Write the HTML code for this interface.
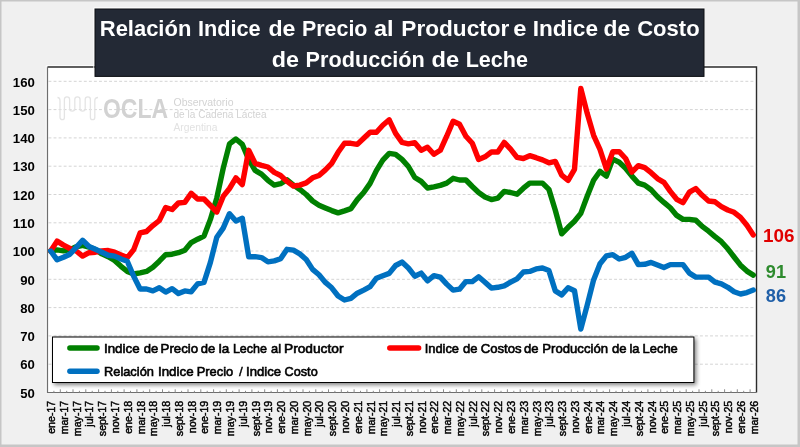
<!DOCTYPE html>
<html lang="es"><head><meta charset="utf-8"><title>Relación Indice de Precio al Productor e Indice de Costo de Producción de Leche</title>
<style>
html,body{margin:0;padding:0;background:#f0f0f0;}
body{width:800px;height:447px;overflow:hidden;}
svg{display:block;}
text{font-family:"Liberation Sans",sans-serif;}
.b{font-weight:bold;}
</style></head><body>
<svg width="800" height="447" viewBox="0 0 800 447">
<defs>
<filter id="sh" x="-5%" y="-20%" width="112%" height="150%"><feGaussianBlur in="SourceAlpha" stdDeviation="2"/><feOffset dx="2.2" dy="2.4" result="o"/><feComponentTransfer><feFuncA type="linear" slope="0.5"/></feComponentTransfer><feMerge><feMergeNode/><feMergeNode in="SourceGraphic"/></feMerge></filter>
</defs>
<rect x="0" y="0" width="800" height="447" fill="#c6c6c6"/>
<rect x="1.5" y="1.5" width="796" height="443" fill="#f0f0f0"/>

<rect x="47.5" y="67.0" width="709.0" height="325.5" fill="#ffffff"/>
<line x1="48.5" x2="755.5" y1="364.2" y2="364.2" stroke="#d4d4d4" stroke-width="1" stroke-dasharray="2.9 2.15"/>
<line x1="48.5" x2="755.5" y1="335.9" y2="335.9" stroke="#d4d4d4" stroke-width="1" stroke-dasharray="2.9 2.15"/>
<line x1="48.5" x2="755.5" y1="307.6" y2="307.6" stroke="#d4d4d4" stroke-width="1" stroke-dasharray="2.9 2.15"/>
<line x1="48.5" x2="755.5" y1="279.3" y2="279.3" stroke="#d4d4d4" stroke-width="1" stroke-dasharray="2.9 2.15"/>
<line x1="48.5" x2="755.5" y1="251.0" y2="251.0" stroke="#d4d4d4" stroke-width="1" stroke-dasharray="2.9 2.15"/>
<line x1="48.5" x2="755.5" y1="222.8" y2="222.8" stroke="#d4d4d4" stroke-width="1" stroke-dasharray="2.9 2.15"/>
<line x1="48.5" x2="755.5" y1="194.5" y2="194.5" stroke="#d4d4d4" stroke-width="1" stroke-dasharray="2.9 2.15"/>
<line x1="48.5" x2="755.5" y1="166.2" y2="166.2" stroke="#d4d4d4" stroke-width="1" stroke-dasharray="2.9 2.15"/>
<line x1="48.5" x2="755.5" y1="137.9" y2="137.9" stroke="#d4d4d4" stroke-width="1" stroke-dasharray="2.9 2.15"/>
<line x1="48.5" x2="755.5" y1="109.6" y2="109.6" stroke="#d4d4d4" stroke-width="1" stroke-dasharray="2.9 2.15"/>
<line x1="48.5" x2="755.5" y1="81.3" y2="81.3" stroke="#d4d4d4" stroke-width="1" stroke-dasharray="2.9 2.15"/>
<g id="logo">
<path d="M57.5,97.5 C59.5,97.5 60,99 60,101 L60,117.5 a2.2,2.2 0 0 0 4.4,0 L64.4,99.5 a2.6,2.6 0 0 1 5.2,0 L69.6,108.5 a2.6,2.6 0 0 0 5.2,0 L74.8,99.5 a2.6,2.6 0 0 1 5.2,0 L80,108.5 a2.6,2.6 0 0 0 5.2,0 L85.2,99.5 a2.6,2.6 0 0 1 5.2,0 L90.4,117.5 a2.2,2.2 0 0 0 4.4,0 L94.8,101 C94.8,99 95.5,97.5 98,97.5" fill="none" stroke="#e4e4e4" stroke-width="1.3"/>
<text x="103" y="118.2" class="b" font-size="28" fill="#d2d2d2" textLength="65" lengthAdjust="spacingAndGlyphs">OCLA</text>
<text x="173.5" y="106.1" font-size="11" fill="#d3d3d3" textLength="60" lengthAdjust="spacingAndGlyphs">Observatorio</text>
<text x="173.5" y="118.2" font-size="11" fill="#d3d3d3" textLength="93" lengthAdjust="spacingAndGlyphs">de la Cadena Láctea</text>
<text x="173.5" y="130.9" font-size="11" fill="#e2e2e2" textLength="44" lengthAdjust="spacingAndGlyphs">Argentina</text>
</g>
<path d="M46.2,393.5 L46.2,65.7 L757,65.7" fill="none" stroke="#ffffff" stroke-width="1" opacity="0.85"/>
<path d="M47.5,67.0 L756.5,67.0 L756.5,392.5" fill="none" stroke="#2c2c2c" stroke-width="1.4"/>
<path d="M47.5,67.0 L47.5,392.5 L756.5,392.5" fill="none" stroke="#6e6e6e" stroke-width="1.2"/>
<path d="M53.9,392.5 v-1.7 M60.3,392.5 v-3.2 M66.7,392.5 v-1.7 M73.0,392.5 v-3.2 M79.4,392.5 v-1.7 M85.8,392.5 v-3.2 M92.2,392.5 v-1.7 M98.6,392.5 v-3.2 M105.0,392.5 v-1.7 M111.4,392.5 v-3.2 M117.8,392.5 v-1.7 M124.1,392.5 v-3.2 M130.5,392.5 v-1.7 M136.9,392.5 v-3.2 M143.3,392.5 v-1.7 M149.7,392.5 v-3.2 M156.1,392.5 v-1.7 M162.5,392.5 v-3.2 M168.9,392.5 v-1.7 M175.2,392.5 v-3.2 M181.6,392.5 v-1.7 M188.0,392.5 v-3.2 M194.4,392.5 v-1.7 M200.8,392.5 v-3.2 M207.2,392.5 v-1.7 M213.6,392.5 v-3.2 M220.0,392.5 v-1.7 M226.3,392.5 v-3.2 M232.7,392.5 v-1.7 M239.1,392.5 v-3.2 M245.5,392.5 v-1.7 M251.9,392.5 v-3.2 M258.3,392.5 v-1.7 M264.7,392.5 v-3.2 M271.1,392.5 v-1.7 M277.4,392.5 v-3.2 M283.8,392.5 v-1.7 M290.2,392.5 v-3.2 M296.6,392.5 v-1.7 M303.0,392.5 v-3.2 M309.4,392.5 v-1.7 M315.8,392.5 v-3.2 M322.2,392.5 v-1.7 M328.5,392.5 v-3.2 M334.9,392.5 v-1.7 M341.3,392.5 v-3.2 M347.7,392.5 v-1.7 M354.1,392.5 v-3.2 M360.5,392.5 v-1.7 M366.9,392.5 v-3.2 M373.3,392.5 v-1.7 M379.6,392.5 v-3.2 M386.0,392.5 v-1.7 M392.4,392.5 v-3.2 M398.8,392.5 v-1.7 M405.2,392.5 v-3.2 M411.6,392.5 v-1.7 M418.0,392.5 v-3.2 M424.4,392.5 v-1.7 M430.7,392.5 v-3.2 M437.1,392.5 v-1.7 M443.5,392.5 v-3.2 M449.9,392.5 v-1.7 M456.3,392.5 v-3.2 M462.7,392.5 v-1.7 M469.1,392.5 v-3.2 M475.5,392.5 v-1.7 M481.8,392.5 v-3.2 M488.2,392.5 v-1.7 M494.6,392.5 v-3.2 M501.0,392.5 v-1.7 M507.4,392.5 v-3.2 M513.8,392.5 v-1.7 M520.2,392.5 v-3.2 M526.6,392.5 v-1.7 M532.9,392.5 v-3.2 M539.3,392.5 v-1.7 M545.7,392.5 v-3.2 M552.1,392.5 v-1.7 M558.5,392.5 v-3.2 M564.9,392.5 v-1.7 M571.3,392.5 v-3.2 M577.7,392.5 v-1.7 M584.0,392.5 v-3.2 M590.4,392.5 v-1.7 M596.8,392.5 v-3.2 M603.2,392.5 v-1.7 M609.6,392.5 v-3.2 M616.0,392.5 v-1.7 M622.4,392.5 v-3.2 M628.8,392.5 v-1.7 M635.1,392.5 v-3.2 M641.5,392.5 v-1.7 M647.9,392.5 v-3.2 M654.3,392.5 v-1.7 M660.7,392.5 v-3.2 M667.1,392.5 v-1.7 M673.5,392.5 v-3.2 M679.9,392.5 v-1.7 M686.2,392.5 v-3.2 M692.6,392.5 v-1.7 M699.0,392.5 v-3.2 M705.4,392.5 v-1.7 M711.8,392.5 v-3.2 M718.2,392.5 v-1.7 M724.6,392.5 v-3.2 M731.0,392.5 v-1.7 M737.3,392.5 v-3.2 M743.7,392.5 v-1.7 M750.1,392.5 v-3.2" stroke="#8a8a8a" stroke-width="1" fill="none"/>
<polyline points="50.7,251.0 57.1,249.9 63.5,250.8 69.9,249.6 76.2,246.8 82.6,245.4 89.0,247.1 95.4,249.6 101.8,253.9 108.2,256.7 114.6,260.4 121.0,266.3 127.3,271.4 133.7,274.0 140.1,272.8 146.5,271.4 152.9,267.2 159.3,261.2 165.7,254.7 172.1,254.2 178.4,252.7 184.8,250.2 191.2,242.6 197.6,239.2 204.0,236.1 210.4,219.4 216.8,197.9 223.2,168.4 229.5,143.8 235.9,139.0 242.3,144.4 248.7,159.4 255.1,170.4 261.5,174.1 267.9,180.3 274.3,185.1 280.6,183.7 287.0,179.8 293.4,185.1 299.8,189.4 306.2,194.5 312.6,201.0 319.0,205.2 325.4,208.0 331.7,210.6 338.1,212.9 344.5,210.9 350.9,208.6 357.3,199.6 363.7,192.5 370.1,183.4 376.5,170.4 382.8,160.2 389.2,153.4 395.6,154.3 402.0,159.4 408.4,166.5 414.8,177.5 421.2,181.4 427.5,188.0 433.9,186.8 440.3,185.4 446.7,183.1 453.1,178.3 459.5,180.0 465.9,180.0 472.3,186.5 478.6,192.5 485.0,197.0 491.4,199.6 497.8,198.1 504.2,191.4 510.6,192.5 517.0,194.2 523.4,188.2 529.7,183.1 536.1,183.1 542.5,183.1 548.9,189.4 555.3,210.3 561.7,233.8 568.1,227.3 574.5,221.3 580.8,213.4 587.2,196.2 593.6,180.3 600.0,171.3 606.4,176.1 612.8,159.1 619.2,162.2 625.6,168.2 631.9,176.1 638.3,183.1 644.7,185.1 651.1,189.7 657.5,196.7 663.9,202.4 670.3,207.8 676.7,215.4 683.0,219.4 689.4,219.4 695.8,220.2 702.2,226.4 708.6,231.2 715.0,236.6 721.4,241.7 727.8,248.8 734.1,257.0 740.5,265.2 746.9,271.1 753.3,275.1" fill="none" stroke="#008000" stroke-width="5.4" stroke-linejoin="round" stroke-linecap="round"/>
<polyline points="50.7,251.0 57.1,241.1 63.5,245.1 69.9,248.5 76.2,251.0 82.6,256.1 89.0,252.7 95.4,252.2 101.8,251.0 108.2,250.5 114.6,252.2 121.0,255.0 127.3,257.6 133.7,249.6 140.1,232.9 146.5,231.5 152.9,225.6 159.3,220.5 165.7,207.5 172.1,209.5 178.4,203.0 184.8,202.4 191.2,193.3 197.6,199.0 204.0,199.0 210.4,205.5 216.8,212.0 223.2,196.4 229.5,188.5 235.9,177.8 242.3,184.6 248.7,150.3 255.1,163.3 261.5,165.3 267.9,167.0 274.3,172.4 280.6,175.5 287.0,181.4 293.4,186.0 299.8,185.1 306.2,182.9 312.6,177.8 319.0,175.5 325.4,169.9 331.7,163.3 338.1,152.3 344.5,143.3 350.9,143.3 357.3,144.4 363.7,138.2 370.1,132.2 376.5,132.2 382.8,125.2 389.2,119.8 395.6,133.4 402.0,142.4 408.4,143.8 414.8,142.7 421.2,150.3 427.5,147.2 433.9,154.3 440.3,150.3 446.7,136.2 453.1,121.2 459.5,124.3 465.9,136.2 472.3,143.3 478.6,159.4 485.0,156.8 491.4,152.0 497.8,152.0 504.2,142.4 510.6,149.2 517.0,157.4 523.4,158.5 529.7,155.7 536.1,157.7 542.5,159.9 548.9,162.8 555.3,161.4 561.7,175.2 568.1,180.3 574.5,169.3 580.8,88.4 587.2,113.3 593.6,135.3 600.0,149.5 606.4,169.0 612.8,151.7 619.2,151.7 625.6,158.5 631.9,172.1 638.3,165.6 644.7,167.6 651.1,172.7 657.5,178.6 663.9,182.3 670.3,191.4 676.7,199.3 683.0,202.7 689.4,192.2 695.8,188.5 702.2,195.3 708.6,201.0 715.0,201.8 721.4,206.6 727.8,210.0 734.1,212.3 740.5,217.4 746.9,225.3 753.3,234.9" fill="none" stroke="#ff0000" stroke-width="5.4" stroke-linejoin="round" stroke-linecap="round"/>
<polyline points="50.7,251.0 57.1,259.8 63.5,257.3 69.9,254.2 76.2,247.4 82.6,240.3 89.0,246.5 95.4,249.3 101.8,252.2 108.2,255.3 114.6,256.1 121.0,259.0 127.3,261.2 133.7,276.2 140.1,289.0 146.5,289.0 152.9,290.9 159.3,287.8 165.7,292.1 172.1,288.7 178.4,293.5 184.8,290.9 191.2,291.8 197.6,283.9 204.0,282.4 210.4,262.4 216.8,237.2 223.2,228.1 229.5,213.7 235.9,221.1 242.3,218.2 248.7,256.7 255.1,256.7 261.5,257.6 267.9,261.8 274.3,260.9 280.6,258.7 287.0,249.3 293.4,250.2 299.8,253.9 306.2,259.5 312.6,269.4 319.0,274.8 325.4,282.4 331.7,287.8 338.1,296.0 344.5,300.0 350.9,298.3 357.3,293.2 363.7,290.1 370.1,286.7 376.5,278.2 382.8,275.7 389.2,273.4 395.6,265.5 402.0,262.1 408.4,268.0 414.8,276.2 421.2,273.1 427.5,280.8 433.9,275.7 440.3,277.1 446.7,284.1 453.1,290.1 459.5,289.2 465.9,281.6 472.3,281.6 478.6,276.8 485.0,282.2 491.4,288.1 497.8,287.3 504.2,285.8 510.6,282.2 517.0,278.8 523.4,272.0 529.7,271.4 536.1,268.9 542.5,268.0 548.9,270.6 555.3,290.9 561.7,294.9 568.1,287.8 574.5,290.7 580.8,329.1 587.2,305.1 593.6,279.9 600.0,263.8 606.4,255.9 612.8,254.7 619.2,259.0 625.6,257.3 631.9,253.3 638.3,264.6 644.7,264.3 651.1,262.4 657.5,264.9 663.9,267.5 670.3,264.6 676.7,264.6 683.0,264.6 689.4,273.1 695.8,277.1 702.2,277.1 708.6,277.1 715.0,282.2 721.4,283.9 727.8,287.3 734.1,291.8 740.5,294.0 746.9,292.6 753.3,290.1" fill="none" stroke="#0070c0" stroke-width="5.4" stroke-linejoin="round" stroke-linecap="round"/>
<rect x="52.5" y="337" width="641.4" height="45.5" fill="#ffffff" stroke="#000000" stroke-width="1" filter="url(#sh)"/>
<line x1="69.9" x2="97" y1="348.1" y2="348.1" stroke="#008000" stroke-width="5.5" stroke-linecap="round"/>
<line x1="69.9" x2="97" y1="371.2" y2="371.2" stroke="#0070c0" stroke-width="5.5" stroke-linecap="round"/>
<line x1="389.8" x2="418.6" y1="348.1" y2="348.1" stroke="#ff0000" stroke-width="5.5" stroke-linecap="round"/>
<text x="104.0" y="352.5" font-size="13" fill="#000" stroke="#000" stroke-width="0.6" textLength="35.6" lengthAdjust="spacingAndGlyphs">Indice</text>
<text x="143.8" y="352.5" font-size="13" fill="#000" stroke="#000" stroke-width="0.6" textLength="14.5" lengthAdjust="spacingAndGlyphs">de</text>
<text x="160.6" y="352.5" font-size="13" fill="#000" stroke="#000" stroke-width="0.6" textLength="37.6" lengthAdjust="spacingAndGlyphs">Precio</text>
<text x="200.7" y="352.5" font-size="13" fill="#000" stroke="#000" stroke-width="0.6" textLength="14.5" lengthAdjust="spacingAndGlyphs">de</text>
<text x="218.7" y="352.5" font-size="13" fill="#000" stroke="#000" stroke-width="0.6" textLength="10.5" lengthAdjust="spacingAndGlyphs">la</text>
<text x="232.9" y="352.5" font-size="13" fill="#000" stroke="#000" stroke-width="0.6" textLength="34.1" lengthAdjust="spacingAndGlyphs">Leche</text>
<text x="271.1" y="352.5" font-size="13" fill="#000" stroke="#000" stroke-width="0.6" textLength="10.0" lengthAdjust="spacingAndGlyphs">al</text>
<text x="284.0" y="352.5" font-size="13" fill="#000" stroke="#000" stroke-width="0.6" textLength="59.5" lengthAdjust="spacingAndGlyphs">Productor</text>
<text x="104.0" y="375.9" font-size="13" fill="#000" stroke="#000" stroke-width="0.6" textLength="49.9" lengthAdjust="spacingAndGlyphs">Relación</text>
<text x="158.0" y="375.9" font-size="13" fill="#000" stroke="#000" stroke-width="0.6" textLength="35.6" lengthAdjust="spacingAndGlyphs">Indice</text>
<text x="196.7" y="375.9" font-size="13" fill="#000" stroke="#000" stroke-width="0.6" textLength="36.5" lengthAdjust="spacingAndGlyphs">Precio</text>
<text x="246.1" y="375.9" font-size="13" fill="#000" stroke="#000" stroke-width="0.6" textLength="35.0" lengthAdjust="spacingAndGlyphs">Indice</text>
<text x="284.6" y="375.9" font-size="13" fill="#000" stroke="#000" stroke-width="0.6" textLength="33.1" lengthAdjust="spacingAndGlyphs">Costo</text>
<text x="239" y="375.9" font-size="13.5" fill="#000" stroke="#000" stroke-width="0.4">/</text>
<text x="424.7" y="352.5" font-size="13" fill="#000" stroke="#000" stroke-width="0.6" textLength="34.3" lengthAdjust="spacingAndGlyphs">Indice</text>
<text x="463.1" y="352.5" font-size="13" fill="#000" stroke="#000" stroke-width="0.6" textLength="14.5" lengthAdjust="spacingAndGlyphs">de</text>
<text x="480.7" y="352.5" font-size="13" fill="#000" stroke="#000" stroke-width="0.6" textLength="40.9" lengthAdjust="spacingAndGlyphs">Costos</text>
<text x="524.1" y="352.5" font-size="13" fill="#000" stroke="#000" stroke-width="0.6" textLength="14.5" lengthAdjust="spacingAndGlyphs">de</text>
<text x="542.3" y="352.5" font-size="13" fill="#000" stroke="#000" stroke-width="0.6" textLength="65.7" lengthAdjust="spacingAndGlyphs">Producción</text>
<text x="611.9" y="352.5" font-size="13" fill="#000" stroke="#000" stroke-width="0.6" textLength="14.6" lengthAdjust="spacingAndGlyphs">de</text>
<text x="629.5" y="352.5" font-size="13" fill="#000" stroke="#000" stroke-width="0.6" textLength="10.0" lengthAdjust="spacingAndGlyphs">la</text>
<text x="642.5" y="352.5" font-size="13" fill="#000" stroke="#000" stroke-width="0.6" textLength="35.3" lengthAdjust="spacingAndGlyphs">Leche</text>
<path d="M93.8,77 L93.8,7.8 L704.5,7.8" fill="none" stroke="#ffffff" stroke-width="1" opacity="0.85"/>
<rect x="95" y="9" width="609" height="67.4" fill="#232935" stroke="#0c0e12" stroke-width="1"/>
<text x="99.8" y="36.2" class="b" font-size="22.8" fill="#ffffff" textLength="91.5" lengthAdjust="spacingAndGlyphs">Relación</text>
<text x="197.9" y="36.2" class="b" font-size="22.8" fill="#ffffff" textLength="62.8" lengthAdjust="spacingAndGlyphs">Indice</text>
<text x="268.4" y="36.2" class="b" font-size="22.8" fill="#ffffff" textLength="27.0" lengthAdjust="spacingAndGlyphs">de</text>
<text x="302.0" y="36.2" class="b" font-size="22.8" fill="#ffffff" textLength="65.4" lengthAdjust="spacingAndGlyphs">Precio</text>
<text x="374.0" y="36.2" class="b" font-size="22.8" fill="#ffffff" textLength="19.6" lengthAdjust="spacingAndGlyphs">al</text>
<text x="401.3" y="36.2" class="b" font-size="22.8" fill="#ffffff" textLength="108.1" lengthAdjust="spacingAndGlyphs">Productor</text>
<text x="513.3" y="36.2" class="b" font-size="22.8" fill="#ffffff" textLength="13.2" lengthAdjust="spacingAndGlyphs">e</text>
<text x="532.7" y="36.2" class="b" font-size="22.8" fill="#ffffff" textLength="65.3" lengthAdjust="spacingAndGlyphs">Indice</text>
<text x="603.6" y="36.2" class="b" font-size="22.8" fill="#ffffff" textLength="26.6" lengthAdjust="spacingAndGlyphs">de</text>
<text x="637.2" y="36.2" class="b" font-size="22.8" fill="#ffffff" textLength="62.4" lengthAdjust="spacingAndGlyphs">Costo</text>
<text x="271.8" y="67.4" class="b" font-size="22.8" fill="#ffffff" textLength="27.2" lengthAdjust="spacingAndGlyphs">de</text>
<text x="305.6" y="67.4" class="b" font-size="22.8" fill="#ffffff" textLength="119.2" lengthAdjust="spacingAndGlyphs">Producción</text>
<text x="431.5" y="67.4" class="b" font-size="22.8" fill="#ffffff" textLength="27.6" lengthAdjust="spacingAndGlyphs">de</text>
<text x="465.7" y="67.4" class="b" font-size="22.8" fill="#ffffff" textLength="62.2" lengthAdjust="spacingAndGlyphs">Leche</text>
<text x="20.2" y="397.7" class="b" font-size="13.1" fill="#000" textLength="14.6" lengthAdjust="spacingAndGlyphs">50</text>
<text x="20.2" y="369.4" class="b" font-size="13.1" fill="#000" textLength="14.6" lengthAdjust="spacingAndGlyphs">60</text>
<text x="20.2" y="341.1" class="b" font-size="13.1" fill="#000" textLength="14.6" lengthAdjust="spacingAndGlyphs">70</text>
<text x="20.2" y="312.8" class="b" font-size="13.1" fill="#000" textLength="14.6" lengthAdjust="spacingAndGlyphs">80</text>
<text x="20.2" y="284.5" class="b" font-size="13.1" fill="#000" textLength="14.6" lengthAdjust="spacingAndGlyphs">90</text>
<text x="12.8" y="256.2" class="b" font-size="13.1" fill="#000" textLength="22.0" lengthAdjust="spacingAndGlyphs">100</text>
<text x="12.8" y="228.0" class="b" font-size="13.1" fill="#000" textLength="22.0" lengthAdjust="spacingAndGlyphs">110</text>
<text x="12.8" y="199.7" class="b" font-size="13.1" fill="#000" textLength="22.0" lengthAdjust="spacingAndGlyphs">120</text>
<text x="12.8" y="171.4" class="b" font-size="13.1" fill="#000" textLength="22.0" lengthAdjust="spacingAndGlyphs">130</text>
<text x="12.8" y="143.1" class="b" font-size="13.1" fill="#000" textLength="22.0" lengthAdjust="spacingAndGlyphs">140</text>
<text x="12.8" y="114.8" class="b" font-size="13.1" fill="#000" textLength="22.0" lengthAdjust="spacingAndGlyphs">150</text>
<text x="12.8" y="86.5" class="b" font-size="13.1" fill="#000" textLength="22.0" lengthAdjust="spacingAndGlyphs">160</text>
<text transform="translate(55.1,400.8) rotate(-90)" text-anchor="end" font-size="10.6" fill="#000" stroke="#000" stroke-width="0.45">ene-17</text>
<text transform="translate(67.9,400.8) rotate(-90)" text-anchor="end" font-size="10.6" fill="#000" stroke="#000" stroke-width="0.45">mar-17</text>
<text transform="translate(80.6,400.8) rotate(-90)" text-anchor="end" font-size="10.6" fill="#000" stroke="#000" stroke-width="0.45">may-17</text>
<text transform="translate(93.4,400.8) rotate(-90)" text-anchor="end" font-size="10.6" fill="#000" stroke="#000" stroke-width="0.45">jul-17</text>
<text transform="translate(106.2,400.8) rotate(-90)" text-anchor="end" font-size="10.6" fill="#000" stroke="#000" stroke-width="0.45">sept-17</text>
<text transform="translate(119.0,400.8) rotate(-90)" text-anchor="end" font-size="10.6" fill="#000" stroke="#000" stroke-width="0.45">nov-17</text>
<text transform="translate(131.7,400.8) rotate(-90)" text-anchor="end" font-size="10.6" fill="#000" stroke="#000" stroke-width="0.45">ene-18</text>
<text transform="translate(144.5,400.8) rotate(-90)" text-anchor="end" font-size="10.6" fill="#000" stroke="#000" stroke-width="0.45">mar-18</text>
<text transform="translate(157.3,400.8) rotate(-90)" text-anchor="end" font-size="10.6" fill="#000" stroke="#000" stroke-width="0.45">may-18</text>
<text transform="translate(170.1,400.8) rotate(-90)" text-anchor="end" font-size="10.6" fill="#000" stroke="#000" stroke-width="0.45">jul-18</text>
<text transform="translate(182.8,400.8) rotate(-90)" text-anchor="end" font-size="10.6" fill="#000" stroke="#000" stroke-width="0.45">sept-18</text>
<text transform="translate(195.6,400.8) rotate(-90)" text-anchor="end" font-size="10.6" fill="#000" stroke="#000" stroke-width="0.45">nov-18</text>
<text transform="translate(208.4,400.8) rotate(-90)" text-anchor="end" font-size="10.6" fill="#000" stroke="#000" stroke-width="0.45">ene-19</text>
<text transform="translate(221.2,400.8) rotate(-90)" text-anchor="end" font-size="10.6" fill="#000" stroke="#000" stroke-width="0.45">mar-19</text>
<text transform="translate(233.9,400.8) rotate(-90)" text-anchor="end" font-size="10.6" fill="#000" stroke="#000" stroke-width="0.45">may-19</text>
<text transform="translate(246.7,400.8) rotate(-90)" text-anchor="end" font-size="10.6" fill="#000" stroke="#000" stroke-width="0.45">jul-19</text>
<text transform="translate(259.5,400.8) rotate(-90)" text-anchor="end" font-size="10.6" fill="#000" stroke="#000" stroke-width="0.45">sept-19</text>
<text transform="translate(272.3,400.8) rotate(-90)" text-anchor="end" font-size="10.6" fill="#000" stroke="#000" stroke-width="0.45">nov-19</text>
<text transform="translate(285.0,400.8) rotate(-90)" text-anchor="end" font-size="10.6" fill="#000" stroke="#000" stroke-width="0.45">ene-20</text>
<text transform="translate(297.8,400.8) rotate(-90)" text-anchor="end" font-size="10.6" fill="#000" stroke="#000" stroke-width="0.45">mar-20</text>
<text transform="translate(310.6,400.8) rotate(-90)" text-anchor="end" font-size="10.6" fill="#000" stroke="#000" stroke-width="0.45">may-20</text>
<text transform="translate(323.4,400.8) rotate(-90)" text-anchor="end" font-size="10.6" fill="#000" stroke="#000" stroke-width="0.45">jul-20</text>
<text transform="translate(336.1,400.8) rotate(-90)" text-anchor="end" font-size="10.6" fill="#000" stroke="#000" stroke-width="0.45">sept-20</text>
<text transform="translate(348.9,400.8) rotate(-90)" text-anchor="end" font-size="10.6" fill="#000" stroke="#000" stroke-width="0.45">nov-20</text>
<text transform="translate(361.7,400.8) rotate(-90)" text-anchor="end" font-size="10.6" fill="#000" stroke="#000" stroke-width="0.45">ene-21</text>
<text transform="translate(374.5,400.8) rotate(-90)" text-anchor="end" font-size="10.6" fill="#000" stroke="#000" stroke-width="0.45">mar-21</text>
<text transform="translate(387.2,400.8) rotate(-90)" text-anchor="end" font-size="10.6" fill="#000" stroke="#000" stroke-width="0.45">may-21</text>
<text transform="translate(400.0,400.8) rotate(-90)" text-anchor="end" font-size="10.6" fill="#000" stroke="#000" stroke-width="0.45">jul-21</text>
<text transform="translate(412.8,400.8) rotate(-90)" text-anchor="end" font-size="10.6" fill="#000" stroke="#000" stroke-width="0.45">sept-21</text>
<text transform="translate(425.6,400.8) rotate(-90)" text-anchor="end" font-size="10.6" fill="#000" stroke="#000" stroke-width="0.45">nov-21</text>
<text transform="translate(438.3,400.8) rotate(-90)" text-anchor="end" font-size="10.6" fill="#000" stroke="#000" stroke-width="0.45">ene-22</text>
<text transform="translate(451.1,400.8) rotate(-90)" text-anchor="end" font-size="10.6" fill="#000" stroke="#000" stroke-width="0.45">mar-22</text>
<text transform="translate(463.9,400.8) rotate(-90)" text-anchor="end" font-size="10.6" fill="#000" stroke="#000" stroke-width="0.45">may-22</text>
<text transform="translate(476.7,400.8) rotate(-90)" text-anchor="end" font-size="10.6" fill="#000" stroke="#000" stroke-width="0.45">jul-22</text>
<text transform="translate(489.4,400.8) rotate(-90)" text-anchor="end" font-size="10.6" fill="#000" stroke="#000" stroke-width="0.45">sept-22</text>
<text transform="translate(502.2,400.8) rotate(-90)" text-anchor="end" font-size="10.6" fill="#000" stroke="#000" stroke-width="0.45">nov-22</text>
<text transform="translate(515.0,400.8) rotate(-90)" text-anchor="end" font-size="10.6" fill="#000" stroke="#000" stroke-width="0.45">ene-23</text>
<text transform="translate(527.8,400.8) rotate(-90)" text-anchor="end" font-size="10.6" fill="#000" stroke="#000" stroke-width="0.45">mar-23</text>
<text transform="translate(540.5,400.8) rotate(-90)" text-anchor="end" font-size="10.6" fill="#000" stroke="#000" stroke-width="0.45">may-23</text>
<text transform="translate(553.3,400.8) rotate(-90)" text-anchor="end" font-size="10.6" fill="#000" stroke="#000" stroke-width="0.45">jul-23</text>
<text transform="translate(566.1,400.8) rotate(-90)" text-anchor="end" font-size="10.6" fill="#000" stroke="#000" stroke-width="0.45">sept-23</text>
<text transform="translate(578.9,400.8) rotate(-90)" text-anchor="end" font-size="10.6" fill="#000" stroke="#000" stroke-width="0.45">nov-23</text>
<text transform="translate(591.6,400.8) rotate(-90)" text-anchor="end" font-size="10.6" fill="#000" stroke="#000" stroke-width="0.45">ene-24</text>
<text transform="translate(604.4,400.8) rotate(-90)" text-anchor="end" font-size="10.6" fill="#000" stroke="#000" stroke-width="0.45">mar-24</text>
<text transform="translate(617.2,400.8) rotate(-90)" text-anchor="end" font-size="10.6" fill="#000" stroke="#000" stroke-width="0.45">may-24</text>
<text transform="translate(630.0,400.8) rotate(-90)" text-anchor="end" font-size="10.6" fill="#000" stroke="#000" stroke-width="0.45">jul-24</text>
<text transform="translate(642.7,400.8) rotate(-90)" text-anchor="end" font-size="10.6" fill="#000" stroke="#000" stroke-width="0.45">sept-24</text>
<text transform="translate(655.5,400.8) rotate(-90)" text-anchor="end" font-size="10.6" fill="#000" stroke="#000" stroke-width="0.45">nov-24</text>
<text transform="translate(668.3,400.8) rotate(-90)" text-anchor="end" font-size="10.6" fill="#000" stroke="#000" stroke-width="0.45">ene-25</text>
<text transform="translate(681.1,400.8) rotate(-90)" text-anchor="end" font-size="10.6" fill="#000" stroke="#000" stroke-width="0.45">mar-25</text>
<text transform="translate(693.8,400.8) rotate(-90)" text-anchor="end" font-size="10.6" fill="#000" stroke="#000" stroke-width="0.45">may-25</text>
<text transform="translate(706.6,400.8) rotate(-90)" text-anchor="end" font-size="10.6" fill="#000" stroke="#000" stroke-width="0.45">jul-25</text>
<text transform="translate(719.4,400.8) rotate(-90)" text-anchor="end" font-size="10.6" fill="#000" stroke="#000" stroke-width="0.45">sept-25</text>
<text transform="translate(732.2,400.8) rotate(-90)" text-anchor="end" font-size="10.6" fill="#000" stroke="#000" stroke-width="0.45">nov-25</text>
<text transform="translate(744.9,400.8) rotate(-90)" text-anchor="end" font-size="10.6" fill="#000" stroke="#000" stroke-width="0.45">ene-26</text>
<text transform="translate(757.7,400.8) rotate(-90)" text-anchor="end" font-size="10.6" fill="#000" stroke="#000" stroke-width="0.45">mar-26</text>
<text x="763" y="242.1" class="b" font-size="19" fill="#e00000" textLength="31.5" lengthAdjust="spacingAndGlyphs">106</text>
<text x="765.8" y="278.4" class="b" font-size="19" fill="#2e8b2e" textLength="20.2" lengthAdjust="spacingAndGlyphs">91</text>
<text x="765.8" y="301.6" class="b" font-size="19" fill="#1f5fa8" textLength="20.2" lengthAdjust="spacingAndGlyphs">86</text>
</svg></body></html>
